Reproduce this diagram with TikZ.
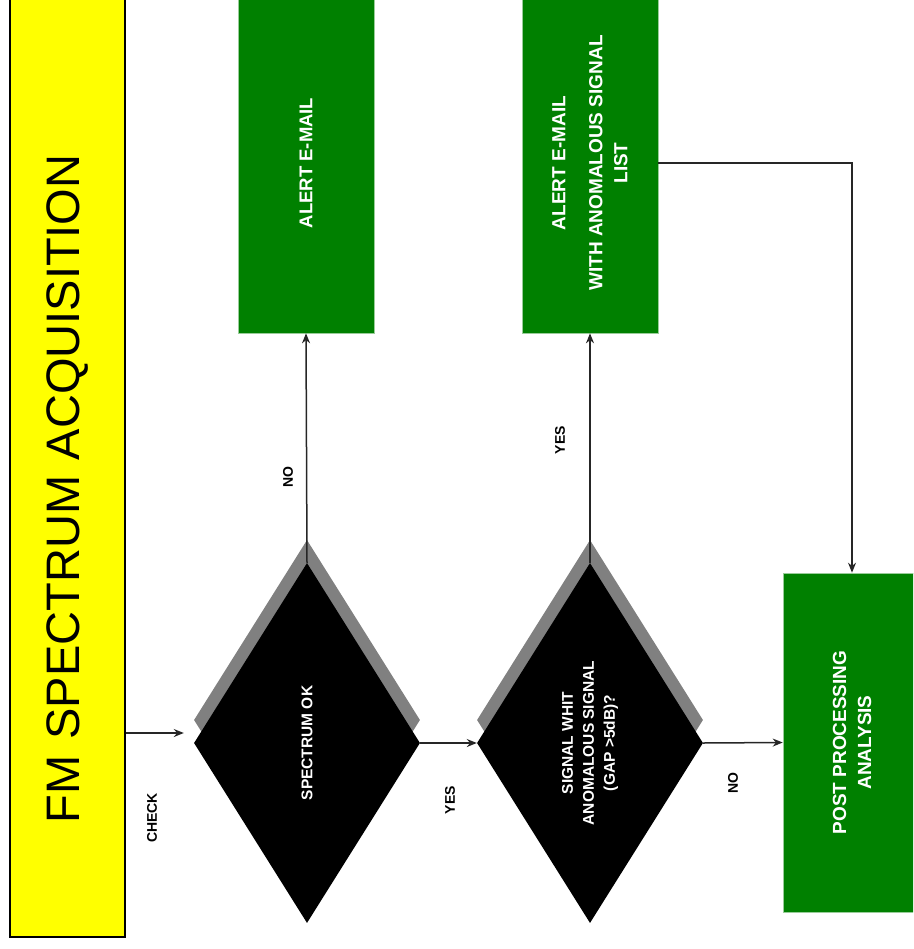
\documentclass[tikz,border=0pt]{standalone}
\usepackage{fontspec}
\setmainfont{Liberation Sans}
\usetikzlibrary{shapes.geometric, arrows.meta}
\definecolor{titleyellow}{HTML}{FFFF00}
\definecolor{boxgreen}{HTML}{008000}
\definecolor{shadowgray}{HTML}{808080}

\begin{document}
\begin{tikzpicture}[
  x=1pt, y=-1pt,
  titlebox/.style = {rectangle, rotate=90, fill=titleyellow, draw=black, line width=1.2pt,
                     minimum height=115pt, text width=712pt, inner xsep=114pt, align=left,
                     font=\fontsize{47}{50}\selectfont},
  box/.style      = {rectangle, rotate=90, fill=boxgreen, draw=boxgreen!40!white, line width=0.6pt,
                     minimum width=340pt, minimum height=136pt, inner sep=0pt, align=center,
                     text=white, font=\fontsize{19}{25}\selectfont\bfseries},
  decision/.style = {diamond, rotate=90, aspect=1.6, fill=black, minimum width=360pt,
                     minimum height=226pt, inner sep=0pt, align=center, text=white,
                     font=\fontsize{15.5}{21}\selectfont\bfseries},
  shade/.style    = {decision, fill=shadowgray},
  lbl/.style      = {rotate=90, font=\fontsize{14}{16}\selectfont\bfseries},
  arrow/.style    = {-{Stealth[length=10pt, width=8pt]}, line width=1.5pt, color=black!85},
]
  \useasboundingbox (0,0) rectangle (913,949);
  \clip (0,0) rectangle (913,949);

  \node[titlebox] (title) at (67.5,467) {FM SPECTRUM ACQUISITION};

  \node[shade]    (checksh) at (307,720) {};
  \node[shade]    (anomsh)  at (590,720) {};
  \node[decision] (check)   at (307,743) {SPECTRUM OK};
  \node[decision] (anom)    at (590,743) {SIGNAL WHIT\\ANOMALOUS SIGNAL\\(GAP >5dB)?};

  \node[box, font=\fontsize{18.5}{24}\selectfont\bfseries] (alert)  at (306,163) {ALERT E-MAIL};
  \node[box] (alertlist) at (590,163) {ALERT E-MAIL\\[12pt]WITH ANOMALOUS SIGNAL\\LIST};
  \node[box, minimum width=339pt, minimum height=138pt] (post) at (852,742.5) {POST PROCESSING\\ANALYSIS};

  \node[lbl] (lcheck) at (152,818) {CHECK};
  \node[lbl] (lno1)   at (288,477) {NO};
  \node[lbl] (lyes1)  at (450,800) {YES};
  \node[lbl] (lyes2)  at (560,440) {YES};
  \node[lbl] (lno2)   at (733,783) {NO};

  \coordinate (chkin) at ([shift={(-10,-10)}]check.north);

  \draw[arrow] (title.south |- chkin) -- (chkin);
  \draw[arrow] (check.south) -- (anom.north);
  \draw[arrow] (check.east)  -- (alert.west);
  \draw[arrow] (anom.east)   -- (alertlist.west);
  \draw[arrow] (anom.south)  -- (post.north);
  \draw[arrow] (alertlist.south) -| (post.east);
\end{tikzpicture}
\end{document}
